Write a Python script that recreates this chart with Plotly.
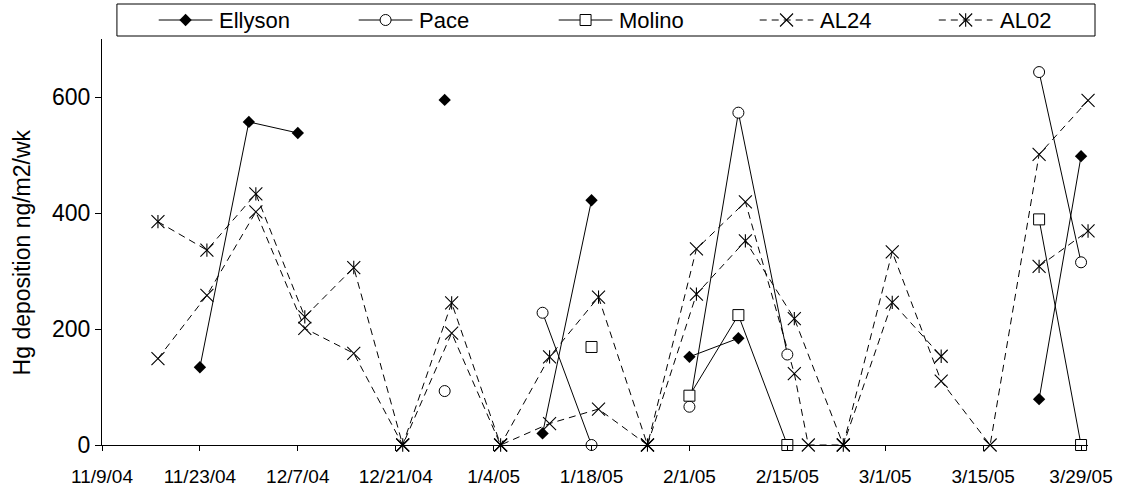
import plotly.graph_objects as go

# ---------------- data ----------------
site_dates = ['2004-11-23', '2004-11-30', '2004-12-07', '2004-12-14', '2004-12-21',
              '2004-12-28', '2005-01-04', '2005-01-11', '2005-01-18', '2005-01-25',
              '2005-02-01', '2005-02-08', '2005-02-15', '2005-02-22', '2005-03-01',
              '2005-03-08', '2005-03-15', '2005-03-23', '2005-03-29']
ellyson = [134, 557, 538, None, None, 595, None, 20, 422, None,
           152, 184, None, None, None, None, None, 79, 498]
pace = [None, None, None, None, None, 93, None, 228, 0, None,
        66, 573, 156, None, None, None, None, 643, 315]
molino = [None, None, None, None, None, None, None, None, 169, None,
          85, 224, 0, None, None, None, None, 389, 0]

al24_dates = ['2004-11-17', '2004-11-24', '2004-12-01', '2004-12-08', '2004-12-15',
              '2004-12-22', '2004-12-29', '2005-01-05', '2005-01-12', '2005-01-19',
              '2005-01-26', '2005-02-02', '2005-02-09', '2005-02-16', '2005-02-18',
              '2005-02-23', '2005-03-02', '2005-03-09', '2005-03-16', '2005-03-23',
              '2005-03-30']
al24 = [149, 258, 402, 201, 158, 0, 193, 0, 37, 62, 0, 338, 419, 123, 0,
        0, 333, 110, 0, 501, 594]

al02_dates = ['2004-11-17', '2004-11-24', '2004-12-01', '2004-12-08', '2004-12-15',
              '2004-12-22', '2004-12-29', '2005-01-05', '2005-01-12', '2005-01-19',
              '2005-01-26', '2005-02-02', '2005-02-09', '2005-02-16', '2005-02-23',
              '2005-03-02', '2005-03-09', '2005-03-16', '2005-03-23', '2005-03-30']
al02 = [385, 336, 433, 221, 306, 0, 245, 0, 152, 255, 0, 260, 352, 218, 0,
        246, 153, None, 308, 369]

series_names = ['Ellyson', 'Pace', 'Molino', 'AL24', 'AL02']
x_range = ['2004-11-09', '2005-03-30']
x_tick0 = '2004-11-09'
x_tick_days = 14
y_range = [0, 700]
y_tick_step = 200
y_title = 'Hg deposition ng/m2/wk'

# ---------------- layout geometry ----------------
FONT = 'Arial, Liberation Sans, sans-serif'
W, H = 1123, 487
ML, MR, MT, MB = 102, 20, 0, 42
PLOT_RIGHT, PLOT_TOP, PLOT_BOTTOM = 1093, 39, 445
paper_w = W - ML - MR
paper_h = H - MT - MB
xdom = [0, (PLOT_RIGHT - ML) / paper_w]
ydom = [0, (PLOT_BOTTOM - PLOT_TOP) / paper_h]

DASH = '7px,5px'
styles = {
    'Ellyson': dict(line=dict(color='black', width=1),
                    marker=dict(symbol='diamond', size=9.5, color='black', line=dict(width=0))),
    'Pace': dict(line=dict(color='black', width=1),
                 marker=dict(symbol='circle', size=11, color='white',
                             line=dict(color='black', width=1))),
    'Molino': dict(line=dict(color='black', width=1),
                   marker=dict(symbol='square', size=11, color='white',
                               line=dict(color='black', width=1))),
    'AL24': dict(line=dict(color='black', width=1, dash=DASH),
                 marker=dict(symbol='x-thin-open', size=13, color='black',
                             line=dict(color='black', width=1.1))),
    'AL02': dict(line=dict(color='black', width=1, dash=DASH),
                 marker=dict(symbol='x-thin-open', size=13, color='black',
                             line=dict(color='black', width=1.1))),
}
vbar_marker = dict(symbol='line-ns-open', size=9.5, color='black',
                   line=dict(color='black', width=1.1))

series_data = {
    'Ellyson': (site_dates, ellyson),
    'Pace': (site_dates, pace),
    'Molino': (site_dates, molino),
    'AL24': (al24_dates, al24),
    'AL02': (al02_dates, al02),
}

fig = go.Figure()
for name in ['AL24', 'AL02', 'Ellyson', 'Pace', 'Molino']:
    xs, ys = series_data[name]
    st = styles[name]
    fig.add_trace(go.Scatter(x=xs, y=ys, mode='lines+markers', name=name,
                             line=st['line'], marker=st['marker'],
                             connectgaps=False, cliponaxis=False, showlegend=False))
    if name == 'AL02':
        fig.add_trace(go.Scatter(x=xs, y=ys, mode='markers', marker=vbar_marker,
                                 cliponaxis=False, showlegend=False))

# ---------------- custom legend (pixel-coordinate overlay axes at the top) ----------------
LEG_TOP_PX = 42  # overlay covers canvas rows 0..42
leg_centers = [186, 387, 588, 790, 970]
leg_half = 27
leg_y = 20
for name, c in zip(series_names, leg_centers):
    st = styles[name]
    fig.add_trace(go.Scatter(x=[c - leg_half, c + leg_half], y=[leg_y, leg_y], mode='lines',
                             line=st['line'], xaxis='x2', yaxis='y2',
                             cliponaxis=False, showlegend=False, hoverinfo='skip'))
    fig.add_trace(go.Scatter(x=[c], y=[leg_y], mode='markers', marker=st['marker'],
                             xaxis='x2', yaxis='y2', cliponaxis=False,
                             showlegend=False, hoverinfo='skip'))
    if name == 'AL02':
        fig.add_trace(go.Scatter(x=[c], y=[leg_y], mode='markers', marker=vbar_marker,
                                 xaxis='x2', yaxis='y2', cliponaxis=False,
                                 showlegend=False, hoverinfo='skip'))
    fig.add_annotation(x=c + leg_half + 5, y=leg_y, xref='x2', yref='y2', text=name,
                       showarrow=False, xanchor='left', yanchor='middle',
                       font=dict(family=FONT, size=22, color='black'))

fig.add_shape(type='rect', xref='x2', yref='y2', x0=117, x1=1100, y0=4, y1=36,
              line=dict(color='black', width=1), fillcolor='rgba(0,0,0,0)')

# y-axis title placed as a rotated annotation (paper coordinates)
fig.add_annotation(x=(22 - ML) / paper_w, y=(PLOT_BOTTOM - 252) / paper_h,
                   xref='paper', yref='paper', text=y_title, textangle=-90,
                   showarrow=False, xanchor='center', yanchor='middle',
                   font=dict(family=FONT, size=23, color='black'))

fig.update_layout(
    width=W, height=H,
    margin=dict(l=ML, r=MR, t=MT, b=MB, pad=0),
    paper_bgcolor='white', plot_bgcolor='rgba(0,0,0,0)',
    font=dict(family=FONT, color='black'),
    showlegend=False,
    xaxis=dict(type='date', domain=xdom, range=x_range, tick0=x_tick0,
               dtick=x_tick_days * 86400000, tickformat='%-m/%-d/%y',
               ticks='outside', ticklen=5, tickcolor='black', tickwidth=1,
               ticklabelstandoff=9,
               showline=True, linecolor='black', linewidth=1,
               showgrid=False, zeroline=False,
               tickfont=dict(family=FONT, size=19, color='black')),
    yaxis=dict(domain=ydom, range=y_range, dtick=y_tick_step, tick0=0,
               ticks='outside', ticklen=6, tickcolor='black', tickwidth=1,
               showline=True, linecolor='black', linewidth=1,
               showgrid=False, zeroline=False,
               tickfont=dict(family=FONT, size=23, color='black')),
    xaxis2=dict(domain=[0, 1], range=[ML, W - MR], anchor='y2', visible=False,
                fixedrange=True),
    yaxis2=dict(domain=[(H - MB - LEG_TOP_PX) / paper_h, 1], range=[LEG_TOP_PX, 0],
                anchor='x2', visible=False, fixedrange=True),
)

fig.write_html('out.html')
